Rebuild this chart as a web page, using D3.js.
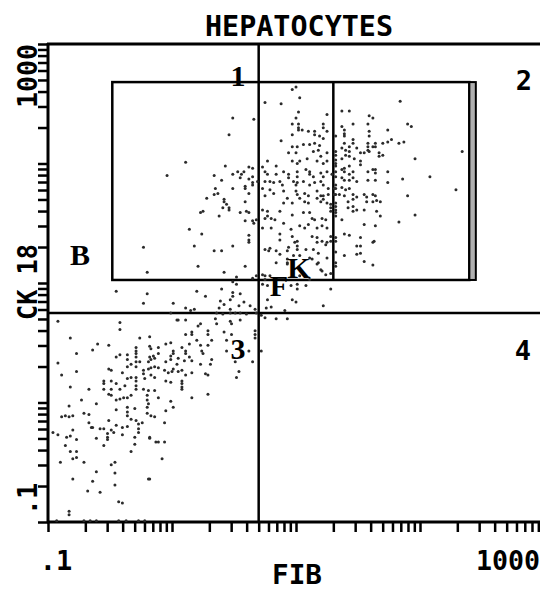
<!DOCTYPE html>
<html>
<head>
<meta charset="utf-8">
<script src="https://cdn.jsdelivr.net/npm/d3@7"></script>
<style>
  body { margin: 0; background: #fff; }
</style>
</head>
<body>
<div id="chart"></div>
<script>
// ---- data: each cell is [log10 FIB, log10 CK 18] ----

// cells inside the CK18-high gate
const gateCells = [
  [0.97,2.62],[1.00,2.64],[1.03,2.55],[0.75,2.51],[0.88,2.50],[0.49,2.38],[0.66,2.37],[1.02,2.43],[1.00,2.38],[1.25,2.41],
  [0.97,2.33],[1.02,2.33],[1.02,2.30],[1.02,2.28],[1.05,2.28],[1.10,2.27],[1.22,2.33],[1.22,2.30],[1.25,2.27],[0.46,2.24],
  [0.97,2.24],[1.15,2.27],[1.15,2.24],[1.19,2.23],[0.88,2.19],[1.22,2.21],[1.11,2.16],[1.15,2.17],[1.19,2.15],[0.97,2.14],
  [1.01,2.14],[1.06,2.16],[1.14,2.10],[1.18,2.11],[1.25,2.09],[1.32,2.10],[1.32,2.07],[0.94,2.09],[1.00,2.09],[1.09,2.04],
  [1.20,2.06],[0.11,2.01],[0.97,2.02],[1.01,2.00],[1.03,2.02],[0.77,2.02],[1.17,2.02],[1.22,2.00],[1.25,2.02],[1.32,2.00],
  [1.32,1.98],[0.43,1.98],[0.62,1.97],[0.65,1.96],[0.49,1.91],[0.53,1.93],[0.56,1.91],[0.58,1.93],[0.73,1.97],[0.75,1.93],
  [0.77,1.91],[0.84,1.98],[0.84,1.91],[0.90,1.93],[0.94,1.91],[0.94,1.88],[1.01,1.93],[1.01,1.89],[1.08,1.95],[1.11,1.93],
  [1.11,1.91],[1.14,1.89],[1.20,1.92],[1.22,1.89],[1.25,1.93],[1.29,1.91],[1.32,1.93],[0.34,1.90],[0.40,1.86],[0.55,1.88],
  [0.62,1.87],[0.65,1.89],[0.65,1.84],[0.69,1.85],[0.75,1.85],[0.79,1.85],[0.82,1.84],[0.87,1.85],[0.89,1.82],[0.98,1.85],
  [1.00,1.82],[1.01,1.84],[1.06,1.85],[1.11,1.82],[1.15,1.84],[1.20,1.85],[1.22,1.82],[1.26,1.79],[1.31,1.79],[1.32,1.79],
  [0.49,1.79],[0.59,1.79],[0.73,1.79],[0.79,1.78],[0.90,1.77],[1.00,1.77],[1.01,1.74],[1.07,1.75],[1.10,1.73],[1.17,1.77],
  [1.20,1.73],[1.22,1.73],[1.26,1.74],[1.31,1.74],[1.32,1.74],[0.28,1.71],[0.34,1.74],[0.37,1.75],[0.42,1.70],[0.62,1.75],
  [0.75,1.73],[0.82,1.75],
  [1.84,2.52],[1.37,2.44],[1.43,2.44],[1.59,2.40],[1.62,2.38],[1.90,2.33],[1.93,2.31],[1.46,2.33],[1.58,2.33],[1.37,2.31],
  [1.39,2.28],[1.39,2.25],[1.39,2.23],[1.59,2.27],[1.74,2.28],[1.32,2.23],[1.46,2.20],[1.46,2.17],[1.59,2.23],[1.70,2.17],
  [1.74,2.18],[1.77,2.20],[1.83,2.17],[1.87,2.18],[1.39,2.17],[1.37,2.13],[1.40,2.11],[1.43,2.10],[1.43,2.14],[1.49,2.13],
  [1.58,2.17],[1.58,2.14],[1.58,2.11],[1.62,2.14],[1.64,2.17],[1.64,2.14],[1.52,2.09],[1.55,2.09],[1.59,2.10],[1.67,2.09],
  [1.67,2.06],[1.70,2.07],[1.96,2.04],[2.34,2.10],[1.32,2.03],[1.37,2.04],[1.40,2.07],[1.43,2.06],[1.47,2.04],[1.52,2.02],
  [1.52,1.99],[1.37,1.95],[1.39,1.96],[1.43,1.98],[1.39,1.93],[1.43,1.91],[1.46,1.93],[1.58,1.93],[1.62,1.95],[1.64,1.95],
  [1.64,1.92],[1.74,1.93],[1.32,1.89],[1.37,1.88],[1.39,1.86],[1.43,1.86],[1.46,1.88],[1.49,1.85],[1.58,1.86],[1.64,1.86],
  [1.74,1.84],[1.86,1.87],[2.08,1.89],[1.32,1.82],[1.37,1.80],[1.40,1.78],[1.43,1.79],[1.35,1.74],[1.39,1.73],[1.46,1.74],
  [1.49,1.72],[1.55,1.74],[1.57,1.72],[1.62,1.74],[1.64,1.73],[1.90,1.73],[2.29,1.78],
  [1.42,1.68],[1.46,1.70],[1.57,1.68],[1.62,1.68],[1.65,1.69],[1.68,1.68],[1.32,1.67],[1.32,1.64],[1.32,1.61],[1.32,1.59],
  [1.42,1.63],[1.46,1.64],[1.46,1.60],[1.49,1.61],[1.55,1.61],[1.65,1.60],[1.68,1.56],[1.96,1.57],[1.83,1.51],[1.32,1.56],
  [1.37,1.53],[1.55,1.49],[1.64,1.48],[1.39,1.41],[1.43,1.40],[1.52,1.38],[1.32,1.38],[1.32,1.35],[1.63,1.35],[1.62,1.34],
  [1.49,1.31],[1.52,1.31],[1.32,1.26],[1.49,1.24],[1.52,1.25],[1.39,1.23],[1.55,1.18],[1.62,1.15],[1.32,1.17],[1.32,1.14],
  [0.75,1.54],[0.77,1.56],[0.80,1.54],[0.83,1.53],[0.93,1.71],[0.97,1.67],[0.90,1.67],[1.03,1.71],[1.07,1.68],[1.10,1.67],
  [1.17,1.71],[1.20,1.68],[1.22,1.70],[1.25,1.67],[1.28,1.66],[1.28,1.63],[1.28,1.60],[0.73,1.61],[0.77,1.60],[0.87,1.60],
  [1.06,1.59],[1.11,1.59],[1.13,1.54],[1.15,1.53],[0.97,1.57],[1.21,1.54],[1.24,1.53],[0.90,1.50],[1.03,1.48],[1.07,1.46],
  [1.10,1.49],[0.73,1.46],[0.80,1.46],[0.96,1.45],[1.17,1.46],[1.21,1.48],[1.25,1.46],[0.87,1.41],[0.87,1.36],[0.97,1.39],
  [1.01,1.35],[1.01,1.31],[1.13,1.39],[1.17,1.38],[1.21,1.35],[1.24,1.32],[1.28,1.39],[1.28,1.35],[0.79,1.29],[0.84,1.27],
  [0.93,1.27],[0.98,1.23],[1.03,1.23],[1.14,1.28],[1.18,1.25],[0.93,1.20],[0.93,1.17],[0.84,1.17],[1.13,1.20],[1.18,1.17],
  [1.21,1.10],[1.24,1.07],[1.03,1.06],[1.11,1.03],[0.75,1.06],[0.75,1.03],
  [0.23,1.59],[0.25,1.60],[0.38,1.56],[0.42,1.68],[0.44,1.66],[0.46,1.63],[0.46,1.61],[0.59,1.68],[0.55,1.59],[0.62,1.59],
  [0.59,1.52],[0.65,1.52],[0.68,1.53],[0.14,1.45],[0.24,1.41],[0.62,1.40],[0.18,1.31],[0.49,1.31],[0.62,1.34],[0.34,1.27],
  [0.40,1.27],[0.21,1.14],[0.59,1.14],[0.42,1.09],[0.52,1.05],[0.65,1.04],[0.68,1.06],
  [-0.04,1.90],[-0.23,1.30],[-0.20,1.09],[0.49,1.01],[0.35,1.79],[0.59,1.81],[0.65,1.82],[0.60,1.60],[0.66,1.50],[0.41,1.63],
  [0.62,1.36],
  [0.75,1.28],[0.78,1.27],[0.87,1.24],[0.93,1.16],[0.94,1.30],[0.99,1.34],[1.01,1.28],[1.08,1.28],[1.11,1.21],[1.17,1.34],
  [1.25,1.34],[1.25,1.21],[1.17,1.16],[1.20,1.11],[1.28,1.08],[0.73,1.07],[0.79,1.06]
];

// cells between the gate and the CK 18 cut-off
const bridgeCells = [
  [0.73,0.99],[0.77,0.98],[0.96,0.98],[1.01,0.99],[1.01,0.95],[1.08,0.98],[0.77,0.86],[0.97,0.86],[1.00,0.84],[1.22,0.81],
  [0.76,0.79],[0.80,0.80],[0.91,0.77],[0.52,0.99],[0.40,0.95],[0.20,0.93],[0.27,0.89],[0.49,0.92],[0.49,0.89],[0.47,0.86],
  [0.55,0.91],[0.39,0.85],[0.42,0.82],[0.01,0.83],[0.54,0.81],[0.58,0.84],[0.11,0.79],[0.15,0.77],[0.18,0.78],[0.38,0.79],
  [0.47,0.78],[0.63,0.81],[-0.01,0.75],[0.36,0.75],[0.41,0.74],[0.47,0.75],[0.51,0.75],[0.55,0.75],[0.60,0.74],[0.67,0.78],
  [0.68,0.75],[-0.23,0.83],[-0.45,0.93],[-0.20,0.91],[1.28,0.95]
];

// quadrant 4 (FIB high, CK 18 low)
const quad4Cells = [
  [0.72,0.73],[0.75,0.71],[0.84,0.70],[0.93,0.70],[0.72,0.43]
];

// quadrant 3 (double low)
const quad3Cells = [
  [0.04,0.69],[0.11,0.69],[0.23,0.66],[0.35,0.70],[0.47,0.68],[0.55,0.69],
  [-0.92,0.68],[-0.42,0.67],[-0.42,0.61],[-0.82,0.54],[-0.26,0.54],[-0.60,0.49],[-0.64,0.44],[-0.51,0.48],[-0.77,0.41],[-0.29,0.46],
  [-0.29,0.43],[-0.29,0.41],[-0.29,0.38],[-0.36,0.40],[-0.36,0.36],[-0.42,0.40],[-0.45,0.38],[-0.17,0.45],[-0.26,0.34],[-0.19,0.34],
  [-0.17,0.36],[-0.14,0.37],[-0.92,0.33],[-0.51,0.28],[-0.49,0.27],[-0.36,0.30],[-0.33,0.32],[-0.29,0.34],[-0.29,0.30],[-0.23,0.27],
  [-0.19,0.28],[-0.17,0.29],[-0.14,0.30],[-0.77,0.26],[-0.89,0.23],[-0.40,0.25],[-0.36,0.20],[-0.33,0.21],[-0.55,0.18],[-0.55,0.16],
  [-0.55,0.11],[-0.49,0.18],[-0.45,0.16],[-0.29,0.21],[-0.29,0.18],[-0.29,0.14],[-0.29,0.11],[-0.23,0.24],[-0.22,0.20],[-0.17,0.23],
  [-0.14,0.21],[-0.82,0.13],[-0.67,0.11],[-0.51,0.07],[-0.49,0.11],[-0.49,0.06],[-0.42,0.11],[-0.38,0.14],[-0.23,0.11],[-0.19,0.10],
  [-0.14,0.10],[-0.73,0.02],[-0.45,0.02],[-0.42,0.03],[-0.39,0.04],[-0.36,0.04],[-0.33,0.06],[-0.20,0.06],[-0.20,0.02],[-0.19,-0.01],
  [-0.61,-0.01],[-0.83,-0.03],[-0.36,-0.04],[-0.36,-0.08],[-0.36,-0.11],[-0.45,-0.06],[-0.30,-0.05],[-0.20,-0.04],[-0.71,-0.09],[-0.67,-0.10],
  [-0.89,-0.12],[-0.86,-0.11],[-0.83,-0.12],[-0.80,-0.11],[-0.51,-0.15],[-0.33,-0.14],[-0.29,-0.15],[-0.20,-0.09],[-0.17,-0.11],[-0.14,-0.12],
  [-0.67,-0.17],[-0.65,-0.21],[-0.45,-0.19],[-0.40,-0.21],[-0.36,-0.20],[-0.27,-0.18],[-0.27,-0.22],[-0.27,-0.25],[-0.24,-0.17],[-0.96,-0.25],
  [-0.92,-0.27],[-0.80,-0.23],[-0.85,-0.29],[-0.82,-0.28],[-0.64,-0.21],[-0.61,-0.30],[-0.58,-0.22],[-0.55,-0.22],[-0.52,-0.26],[-0.52,-0.29],
  [-0.52,-0.31],[-0.49,-0.23],[-0.47,-0.25],[-0.40,-0.27],[-0.30,-0.29],[-0.18,-0.30],[-0.13,-0.33],[-0.77,-0.31],[-0.86,-0.36],[-0.82,-0.41],
  [-0.77,-0.41],[-0.55,-0.36],[-0.30,-0.35],[-0.33,-0.41],[-0.80,-0.47],[-0.77,-0.46],[-0.71,-0.50],[-0.90,-0.50],[-0.49,-0.52],[-0.46,-0.50],
  [-0.46,-0.59],[-0.61,-0.58],[-0.80,-0.64],[-0.64,-0.66],[-0.46,-0.69],[-0.19,-0.64],[-0.68,-0.74],[-0.58,-0.75],[-0.43,-0.83],[-0.40,-0.84],
  [-0.83,-0.91],[-0.83,-0.94],[-0.93,-0.99],[-0.71,-0.99],[-0.66,-0.99],[-0.61,-0.99],[-0.43,-0.99],[-0.37,-0.99],[-0.27,-0.99],[-0.22,-0.99],
  [0.05,0.69],[0.36,0.66],[0.21,0.64],[0.48,0.66],[-0.18,0.55],[0.11,0.57],[0.16,0.59],[0.16,0.57],[0.29,0.60],[0.29,0.57],
  [0.42,0.59],[0.48,0.57],[0.67,0.60],[0.67,0.57],[0.67,0.54],[-0.18,0.47],[-0.18,0.38],[-0.15,0.39],[-0.11,0.46],[-0.11,0.41],
  [-0.05,0.49],[-0.01,0.50],[0.01,0.43],[0.01,0.41],[-0.01,0.39],[0.08,0.46],[0.11,0.43],[0.11,0.41],[0.14,0.49],[0.20,0.52],
  [0.23,0.48],[0.24,0.43],[0.25,0.41],[0.29,0.48],[0.32,0.52],[0.44,0.52],[0.44,0.43],[-0.05,0.34],[-0.01,0.36],[0.05,0.37],
  [0.04,0.32],[0.10,0.35],[0.14,0.38],[0.16,0.35],[0.23,0.32],[0.31,0.32],[0.32,0.36],[0.51,0.34],[0.62,0.43],[0.65,0.34],
  [-0.11,0.29],[-0.06,0.27],[-0.03,0.25],[0.00,0.26],[0.01,0.28],[0.05,0.26],[0.08,0.27],[0.11,0.23],[0.16,0.25],[0.27,0.24],
  [0.29,0.23],[0.54,0.26],[0.52,0.21],[-0.05,0.18],[-0.01,0.17],[0.08,0.18],[0.08,0.16],[0.08,0.13],[0.08,0.11],[-0.11,0.04],
  [0.16,0.04],[0.29,0.07],[-0.01,0.01],[0.01,-0.04],[-0.05,-0.07],[-0.06,-0.17],[-0.18,-0.29],[-0.11,-0.33],[-0.06,-0.33],[-0.08,-0.47],
  [-0.18,-0.64]
];

// gates and cut-offs (FIB, CK 18 values)
const gateFib = [0.33, 20, 250];
const gateEdgeFib = 282;
const gateCk = [10.6, 480];
const cutFib = 5;
const cutCk = 5.6;

// text
const titleText = "HEPATOCYTES";
const xTitle = "FIB";
const yTitle = "CK 18";
const axisLabels = [".1", "1000"];
const regionLabels = [
  { t: "1", x: 238, y: 86, serif: true },
  { t: "2", x: 524, y: 90, serif: false },
  { t: "3", x: 238, y: 359, serif: true },
  { t: "4", x: 523, y: 360, serif: false },
  { t: "B", x: 80, y: 265, serif: true },
  { t: "K", x: 299, y: 278, serif: true },
  { t: "F", x: 279, y: 296, serif: true }
];

/******************************************************
 * Drawing
 ******************************************************/
const W = 540, H = 590;
const MONO = "'DejaVu Sans Mono', monospace";
const SERIF = "'Liberation Serif', 'DejaVu Serif', serif";

const svg = d3.select("#chart").append("svg")
  .attr("width", W).attr("height", H)
  .style("background", "#fff");

const x = d3.scaleLog().domain([0.1, 1000]).range([48, 544]);
const y = d3.scaleLog().domain([0.1, 1000]).range([522, 44]);

// ticks
const xAxis = svg.append("g")
  .attr("transform", "translate(0,522)")
  .call(d3.axisBottom(x).tickValues(x.ticks()).tickSize(10).tickFormat(""));
xAxis.select(".domain").remove();
xAxis.selectAll("line").attr("stroke", "#000").attr("stroke-width", 2.5);

const yAxis = svg.append("g")
  .attr("transform", "translate(48,0)")
  .call(d3.axisLeft(y).tickValues(y.ticks()).tickSize(10).tickFormat(""));
yAxis.select(".domain").remove();
yAxis.selectAll("line").attr("stroke", "#000").attr("stroke-width", 2.5);

// frame
const frame = svg.append("g").attr("stroke", "#000").attr("stroke-width", 3);
frame.append("line").attr("x1", 48).attr("x2", 48).attr("y1", 43).attr("y2", 523);
frame.append("line").attr("x1", 47).attr("x2", W).attr("y1", 522).attr("y2", 522);
frame.append("line").attr("x1", 47).attr("x2", W).attr("y1", 44).attr("y2", 44);

// quadrant cut-offs
const quad = svg.append("g").attr("stroke", "#000").attr("stroke-width", 2.5);
quad.append("line").attr("x1", x(cutFib)).attr("x2", x(cutFib)).attr("y1", 44).attr("y2", 522);
quad.append("line").attr("x1", 48).attr("x2", W).attr("y1", y(cutCk)).attr("y2", y(cutCk));

// gate
const gate = svg.append("g").attr("stroke", "#000").attr("fill", "none");
gate.append("rect")
  .attr("x", x(gateFib[0])).attr("y", y(gateCk[1]))
  .attr("width", x(gateFib[2]) - x(gateFib[0]))
  .attr("height", y(gateCk[0]) - y(gateCk[1]))
  .attr("stroke-width", 2.5);
gate.append("line")
  .attr("x1", x(gateFib[1])).attr("x2", x(gateFib[1]))
  .attr("y1", y(gateCk[1])).attr("y2", y(gateCk[0]))
  .attr("stroke-width", 2.5);
gate.append("rect")
  .attr("x", x(gateFib[2])).attr("y", y(gateCk[1]))
  .attr("width", x(gateEdgeFib) - x(gateFib[2]))
  .attr("height", y(gateCk[0]) - y(gateCk[1]))
  .attr("fill", "#b0b0b0").attr("stroke-width", 2);

// cells
const cells = [].concat(gateCells, bridgeCells, quad4Cells, quad3Cells);
svg.append("g").selectAll("circle")
  .data(cells)
  .enter().append("circle")
  .attr("cx", d => x(Math.pow(10, d[0])))
  .attr("cy", d => y(Math.pow(10, d[1])))
  .attr("r", 1.5)
  .attr("fill", "#2b2b2b");

// texts
svg.append("text")
  .attr("x", 299).attr("y", 36)
  .attr("text-anchor", "middle")
  .attr("font-family", MONO).attr("font-weight", "bold").attr("font-size", 28)
  .attr("textLength", 188).attr("lengthAdjust", "spacingAndGlyphs")
  .text(titleText);

svg.append("text")
  .attr("x", 297).attr("y", 584)
  .attr("text-anchor", "middle")
  .attr("font-family", MONO).attr("font-weight", "bold").attr("font-size", 26)
  .attr("textLength", 50).attr("lengthAdjust", "spacingAndGlyphs")
  .text(xTitle);

svg.append("text")
  .attr("transform", "translate(37,282) rotate(-90)")
  .attr("text-anchor", "middle")
  .attr("font-family", MONO).attr("font-weight", "bold").attr("font-size", 27)
  .attr("textLength", 76).attr("lengthAdjust", "spacingAndGlyphs")
  .text(yTitle);

// tick labels
svg.append("text")
  .attr("x", 56).attr("y", 570).attr("text-anchor", "middle")
  .attr("font-family", MONO).attr("font-weight", "bold").attr("font-size", 27)
  .text(axisLabels[0]);
svg.append("text")
  .attr("x", 540).attr("y", 570).attr("text-anchor", "end")
  .attr("font-family", MONO).attr("font-weight", "bold").attr("font-size", 27)
  .attr("textLength", 64).attr("lengthAdjust", "spacingAndGlyphs")
  .text(axisLabels[1]);
svg.append("text")
  .attr("transform", "translate(37,499) rotate(-90)").attr("text-anchor", "middle")
  .attr("font-family", MONO).attr("font-weight", "bold").attr("font-size", 27)
  .text(axisLabels[0]);
svg.append("text")
  .attr("transform", "translate(37,76) rotate(-90)").attr("text-anchor", "middle")
  .attr("font-family", MONO).attr("font-weight", "bold").attr("font-size", 27)
  .attr("textLength", 64).attr("lengthAdjust", "spacingAndGlyphs")
  .text(axisLabels[1]);

// region labels
svg.append("g").selectAll("text")
  .data(regionLabels)
  .enter().append("text")
  .attr("x", d => d.x).attr("y", d => d.y)
  .attr("text-anchor", "middle")
  .attr("font-family", d => d.serif ? SERIF : MONO)
  .attr("font-weight", "bold")
  .attr("font-size", d => d.serif ? 30 : 27)
  .text(d => d.t);
</script>
</body>
</html>
